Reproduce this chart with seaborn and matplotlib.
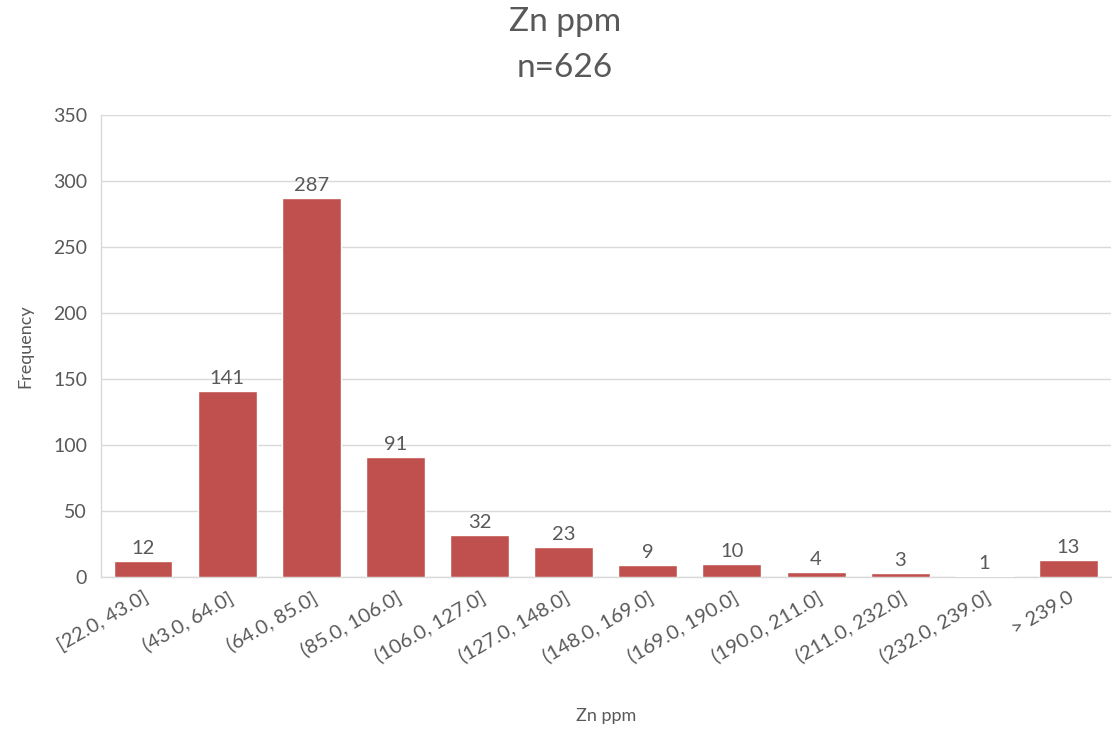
import pandas as pd
import matplotlib.pyplot as plt
import seaborn as sns

# data
bins = ['[22.0, 43.0]', '(43.0, 64.0]', '(64.0, 85.0]', '(85.0, 106.0]',
        '(106.0, 127.0]', '(127.0, 148.0]', '(148.0, 169.0]', '(169.0, 190.0]',
        '(190.0, 211.0]', '(211.0, 232.0]', '(232.0, 239.0]', '> 239.0']
counts = [12, 141, 287, 91, 32, 23, 9, 10, 4, 3, 1, 13]
y_ticks = [0, 50, 100, 150, 200, 250, 300, 350]

df = pd.DataFrame({'bin': bins, 'count': counts})

sns.set_theme(style='white')
plt.rcParams['font.family'] = ['Lato', 'DejaVu Sans']
text_col = '#595959'
grid_col = '#D9D9D9'
bar_col = '#C0504D'

fig = plt.figure(figsize=(11.18, 7.38), dpi=100)
ax = fig.add_axes([0.0903, 0.218, 0.903, 0.626])

sns.barplot(data=df, x='bin', y='count', color=bar_col, width=0.7,
            saturation=1, ax=ax, zorder=3)

for p, c in zip(ax.patches, counts):
    ax.text(p.get_x() + p.get_width() / 2, c + 3, str(c), ha='center',
            va='bottom', fontsize=14.5, color=text_col)

ax.set_ylim(0, 350)
ax.set_yticks(y_ticks)
ax.yaxis.grid(True, color=grid_col, linewidth=1, zorder=0)
ax.set_xlim(-0.5, len(bins) - 0.5)
ax.tick_params(axis='y', length=0, labelsize=14, colors=text_col, pad=10)
ax.tick_params(axis='x', length=0, labelsize=14.5, colors=text_col, pad=8)
plt.setp(ax.get_xticklabels(), rotation=30, ha='right', rotation_mode='anchor')

for s in ['top', 'right']:
    ax.spines[s].set_visible(False)
for s in ['left', 'bottom']:
    ax.spines[s].set_color(grid_col)
    ax.spines[s].set_linewidth(1)

ax.set_xlabel('Zn ppm', fontsize=13, color=text_col, labelpad=30)
ax.set_ylabel('Frequency', fontsize=13, color=text_col, labelpad=14)

fig.text(0.505, 0.970, 'Zn ppm', ha='center', va='center', fontsize=24, color=text_col)
fig.text(0.505, 0.908, 'n=626', ha='center', va='center', fontsize=24, color=text_col)

fig.savefig('out.png', dpi=100)
